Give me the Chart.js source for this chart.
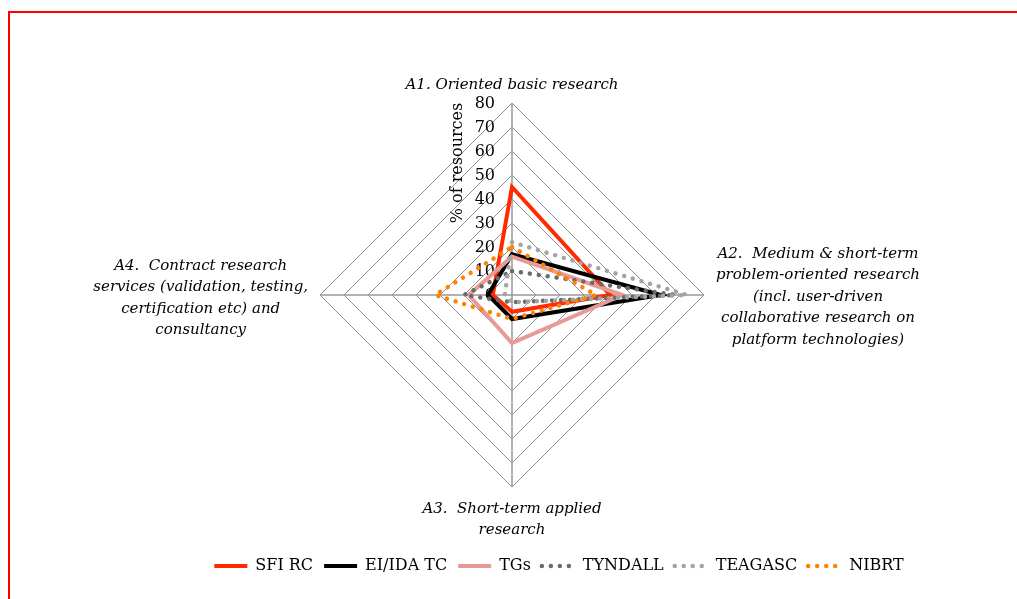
<!DOCTYPE html>
<html>
<head>
<meta charset="utf-8">
<script src="https://cdn.jsdelivr.net/npm/chart.js@4.4.1/dist/chart.umd.min.js"></script>
<style>
  html, body { margin: 0; padding: 0; background: #fff; }
  #wrap { position: relative; width: 1017px; height: 599px; }
  #frame { position: absolute; left: 8px; top: 11px; right: 0; bottom: 0; border-top: 2px solid #ff0000; border-left: 2px solid #ff0000; pointer-events: none; }
</style>
</head>
<body>
<div id="wrap">
  <canvas id="myChart"></canvas>
  <div id="frame"></div>
</div>
<script>
// categories (axis labels, one line per entry)
const categories = [
  ["A1. Oriented basic research"],
  ["A2.  Medium & short-term", "problem-oriented research", "(incl. user-driven", "collaborative research on", "platform technologies)"],
  ["A3.  Short-term applied", "research"],
  ["A4.  Contract research", "services (validation, testing,", "certification etc) and", "consultancy"]
];

// % of resources per category
const sfiRc = [45, 41, 7, 8];
const eiIdaTc = [17, 62, 10, 10];
const tgs = [16, 46, 20, 18];
const tyndall = [10, 68, 3, 20];
const teagasc = [22, 73, 3, 3];
const nibrt = [20, 35, 10, 32];

const tickValues = [0, 10, 20, 30, 40, 50, 60, 70, 80];
const axisTitle = "% of resources";

const serif = "'DejaVu Serif', serif";
const dots = [0.01, 9];

function series(label, data, color, dotted, order) {
  return {
    label: label,
    data: data,
    borderColor: color,
    backgroundColor: color,
    borderWidth: dotted ? 4.5 : 4,
    borderDash: dotted ? dots : [],
    borderCapStyle: dotted ? "round" : "butt",
    borderJoinStyle: "miter",
    pointRadius: 0,
    pointHoverRadius: 0,
    fill: false,
    order: order
  };
}

// ticks, axis title and category labels drawn next to the radial scale
const radarText = {
  id: "radarText",
  afterLayout(chart) {
    // legend sits lower and a bit right of the plot centre
    const lg = chart.legend;
    const shift = 559 - (lg.left + lg.right) / 2;
    lg.left += shift;
    lg.right += shift;
    lg.top += 60;
    lg.bottom += 60;
  },
  beforeDatasetsDraw(chart) {
    const r = chart.scales.r;
    const ctx = chart.ctx;
    ctx.save();
    ctx.fillStyle = "#000";
    ctx.font = "16px " + serif;
    ctx.textAlign = "right";
    ctx.textBaseline = "middle";
    tickValues.forEach(v => {
      const y = r.yCenter - r.getDistanceFromCenterForValue(v);
      ctx.fillText(String(v), r.xCenter - 17, y + 1);
    });

    ctx.translate(r.xCenter - 54, r.yCenter - r.drawingArea + 60);
    ctx.rotate(-Math.PI / 2);
    ctx.textAlign = "center";
    ctx.fillText(axisTitle, 0, 0);
    ctx.restore();

    ctx.save();
    ctx.fillStyle = "#000";
    ctx.font = "italic 15px " + serif;
    ctx.textAlign = "center";
    ctx.textBaseline = "middle";
    const lh = 21.5;
    categories.forEach((lines, i) => {
      const w = Math.max(...lines.map(s => ctx.measureText(s).width));
      const p = r.getPointPosition(i, r.drawingArea);
      let x = p.x, y0;
      if (i === 0) {
        y0 = p.y - 18 - (lines.length - 1) * lh;
      } else if (i === 1) {
        x = p.x + 12 + w / 2;
        y0 = p.y + 2 - (lines.length - 1) * lh / 2;
      } else if (i === 2) {
        y0 = p.y + 22;
      } else {
        x = p.x - 12 - w / 2;
        y0 = p.y + 3 - (lines.length - 1) * lh / 2;
      }
      lines.forEach((s, k) => ctx.fillText(s, x, y0 + k * lh));
    });
    ctx.restore();
  }
};

const data = {
  labels: categories,
  datasets: [
    series("SFI RC", sfiRc, "#ff2a00", false, 6),
    series("EI/IDA TC", eiIdaTc, "#000000", false, 5),
    series("TGs", tgs, "#e89a98", false, 4),
    series("TYNDALL", tyndall, "#6b6b6b", true, 3),
    series("TEAGASC", teagasc, "#a3a3a3", true, 2),
    series("NIBRT", nibrt, "#ff8200", true, 1)
  ]
};

const config = {
  type: "radar",
  data,
  plugins: [radarText],
  options: {
    responsive: true,
    maintainAspectRatio: false,
    animation: false,
    layout: { padding: { top: 103, left: 7, right: 0, bottom: 75 } },
    elements: { line: { tension: 0 } },
    scales: {
      r: {
        min: 0,
        max: 80,
        ticks: { stepSize: 10, display: false },
        grid: { color: "#8f8f8f", lineWidth: 1, circular: false },
        angleLines: { color: "#999999", lineWidth: 1.5 },
        pointLabels: { display: false }
      }
    },
    plugins: {
      tooltip: { enabled: false },
      legend: {
        position: "bottom",
        labels: {
          usePointStyle: true,
          pointStyle: "line",
          pointStyleWidth: 33,
          boxHeight: 16,
          padding: 11,
          color: "#000",
          font: { family: serif, size: 16 },
          sort: (a, b) => a.datasetIndex - b.datasetIndex,
          generateLabels(chart) {
            const items = Chart.defaults.plugins.legend.labels.generateLabels(chart);
            items.forEach(it => {
              const ds = chart.data.datasets[it.datasetIndex];
              it.lineDash = ds.borderDash;
              it.lineCap = ds.borderCapStyle;
              it.lineWidth = ds.borderWidth;
              it.strokeStyle = ds.borderColor;
            });
            return items;
          }
        }
      }
    }
  }
};

const myChart = new Chart(document.getElementById("myChart"), config);
</script>
</body>
</html>
